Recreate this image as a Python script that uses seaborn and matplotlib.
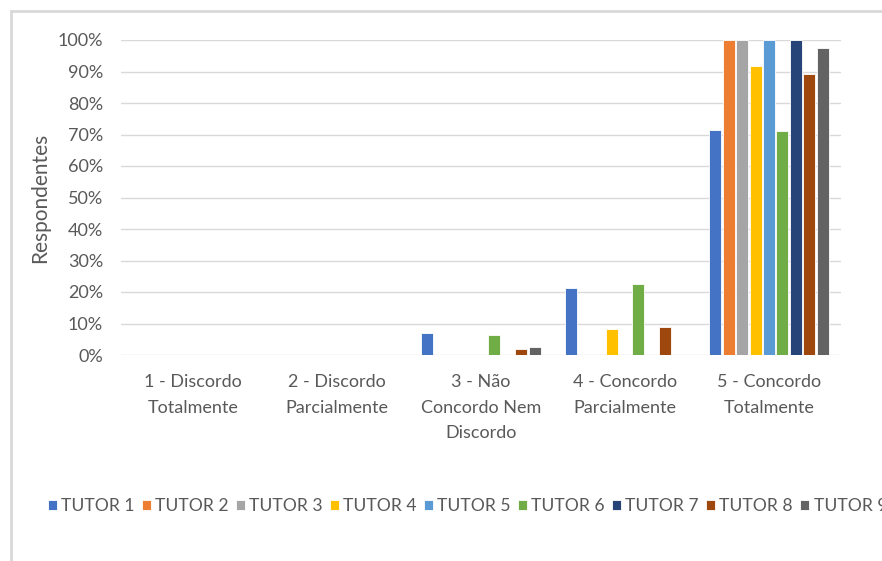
import pandas as pd
import seaborn as sns
import matplotlib.pyplot as plt
from matplotlib.lines import Line2D
from matplotlib.ticker import PercentFormatter

# Likert answer categories (x axis)
categories = [
    "1 - Discordo\nTotalmente",
    "2 - Discordo\nParcialmente",
    "3 - Não\nConcordo Nem\nDiscordo",
    "4 - Concordo\nParcialmente",
    "5 - Concordo\nTotalmente",
]

tutors = ["TUTOR 1", "TUTOR 2", "TUTOR 3", "TUTOR 4", "TUTOR 5",
          "TUTOR 6", "TUTOR 7", "TUTOR 8", "TUTOR 9"]

# share of respondents (%) per category, one list per tutor
tutor1 = [0, 0, 7.1, 21.4, 71.4]
tutor2 = [0, 0, 0, 0, 100]
tutor3 = [0, 0, 0, 0, 100]
tutor4 = [0, 0, 0, 8.3, 91.7]
tutor5 = [0, 0, 0, 0, 100]
tutor6 = [0, 0, 6.5, 22.6, 71.0]
tutor7 = [0, 0, 0, 0, 100]
tutor8 = [0, 0, 1.8, 8.9, 89.3]
tutor9 = [0, 0, 2.4, 0, 97.6]

values = [tutor1, tutor2, tutor3, tutor4, tutor5, tutor6, tutor7, tutor8, tutor9]

colors = ["#4472C4", "#ED7D31", "#A5A5A5", "#FFC000", "#5B9BD5",
          "#70AD47", "#264478", "#9E480E", "#636363"]

rows = []
for t, vals in zip(tutors, values):
    for c, v in zip(categories, vals):
        rows.append({"Categoria": c, "Tutor": t, "Valor": v})
df = pd.DataFrame(rows)

sns.set_style("white")
plt.rcParams["font.family"] = ["Lato", "DejaVu Sans"]
text_color = "#595959"

fig = plt.figure(figsize=(8.82, 5.61), dpi=100)
ax = fig.add_axes([121 / 882, 1 - 355 / 561, 720 / 882, 315 / 561])

sns.barplot(data=df, x="Categoria", y="Valor", hue="Tutor", order=categories,
            hue_order=tutors, palette=colors, saturation=1, width=0.84, gap=0.1,
            edgecolor="white", linewidth=0.6, ax=ax)

ax.set_ylim(0, 100)
ax.set_yticks(range(0, 101, 10))
ax.yaxis.set_major_formatter(PercentFormatter(decimals=0))
ax.grid(axis="y", color="#d9d9d9", linewidth=1)
ax.set_axisbelow(True)
for s in ax.spines.values():
    s.set_visible(False)
ax.tick_params(axis="both", length=0, colors=text_color, labelsize=13)
ax.tick_params(axis="y", pad=13)
ax.tick_params(axis="x", pad=14)
for lbl in ax.get_xticklabels():
    lbl.set_linespacing(1.7)
ax.set_xlabel("")
ax.set_ylabel("Respondentes", color=text_color, fontsize=15, labelpad=5)

leg = ax.legend(loc="upper left", bbox_to_anchor=(-80 / 720, -136 / 315), ncol=9,
                frameon=False, fontsize=12.6, handlelength=0.5, handleheight=0.5,
                handletextpad=0.25, columnspacing=0.42, borderaxespad=0)
for txt in leg.get_texts():
    txt.set_color(text_color)

# chart area border (only left/top visible)
fig.add_artist(Line2D([11 / 882, 11 / 882], [0, 1 - 11 / 561], color="#d9d9d9", linewidth=2))
fig.add_artist(Line2D([11 / 882, 1], [1 - 11 / 561, 1 - 11 / 561], color="#d9d9d9", linewidth=2))

plt.savefig("out.png", dpi=100)
